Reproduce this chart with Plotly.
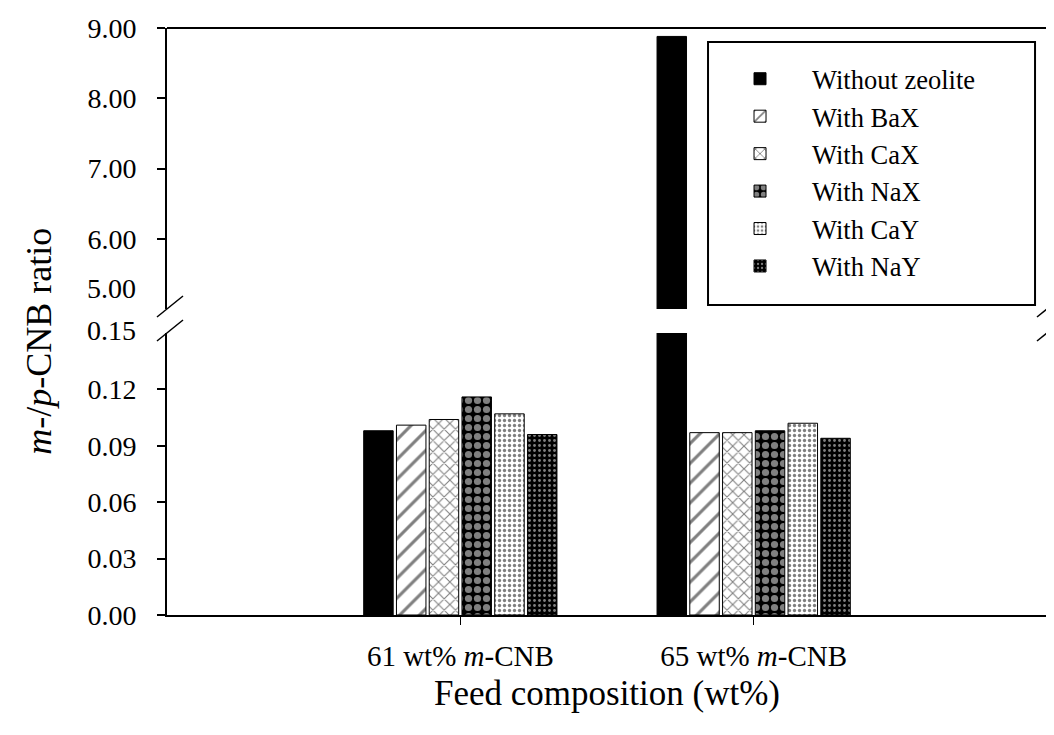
import plotly.graph_objects as go

categories = ["61 wt% m-CNB", "65 wt% m-CNB"]
category_labels = ["61 wt% <i>m</i>-CNB", "65 wt% <i>m</i>-CNB"]

series_names = ["Without zeolite", "With BaX", "With CaX", "With NaX", "With CaY", "With NaY"]
without_zeolite = [0.098, 8.88]
with_bax = [0.101, 0.097]
with_cax = [0.104, 0.097]
with_nax = [0.116, 0.098]
with_cay = [0.107, 0.102]
with_nay = [0.096, 0.094]
series_values = [without_zeolite, with_bax, with_cax, with_nax, with_cay, with_nay]

lower_ticks = [0.0, 0.03, 0.06, 0.09, 0.12]
upper_ticks = [6.0, 7.0, 8.0, 9.0]

FONT = "Liberation Serif, Times New Roman, serif"

patterns = [
    dict(shape="", bgcolor="black", fgcolor="black"),
    dict(shape="/", bgcolor="white", fgcolor="black", size=14, solidity=0.22),
    dict(shape="x", bgcolor="white", fgcolor="black", size=8, solidity=0.25),
    dict(shape=".", bgcolor="black", fgcolor="white", size=9, solidity=0.5),
    dict(shape=".", bgcolor="white", fgcolor="black", size=5, solidity=0.35),
    dict(shape=".", bgcolor="black", fgcolor="white", size=5, solidity=0.25),
]

fig = go.Figure()
for name, vals, pat in zip(series_names, series_values, patterns):
    for yax, show in (("y", True), ("y2", False)):
        fig.add_trace(go.Bar(
            x=categories, y=vals, name=name, yaxis=yax, showlegend=show,
            legendgroup=name,
            marker=dict(color=pat["bgcolor"], pattern=pat,
                        line=dict(color="black", width=1)),
        ))

L_TOP = 0.4804
U_BOT = 0.5213

axis_common = dict(showline=True, linecolor="black", linewidth=2, ticks="outside",
                   ticklen=8, tickwidth=1.5, tickcolor="black", showgrid=False,
                   zeroline=False, automargin=False,
                   tickfont=dict(family=FONT, size=28, color="black"))

fig.update_layout(
    width=1054, height=735,
    margin=dict(l=159, r=15, t=20, b=128, autoexpand=False),
    paper_bgcolor="white", plot_bgcolor="white",
    barmode="group", bargap=0.33, bargroupgap=0.1,
    font=dict(family=FONT, color="black"),
    xaxis=dict(type="category", categoryorder="array", categoryarray=categories,
               tickvals=categories, ticktext=category_labels, range=[-1, 2],
               showline=True, linecolor="black", linewidth=2, ticks="outside",
               ticklen=8, tickcolor="black", showgrid=False, ticklabelstandoff=6,
               automargin=False,
               tickfont=dict(family=FONT, size=29, color="black"),
               title=dict(text="Feed composition (wt%)", standoff=10,
                          font=dict(family=FONT, size=35, color="black")),
               anchor="y"),
    yaxis=dict(domain=[0, L_TOP], range=[0, 0.15], tickvals=lower_ticks,
               tickformat=".2f", mirror=True, ticklabelstandoff=15, anchor="x",
               **axis_common),
    yaxis2=dict(domain=[U_BOT, 1], range=[5, 9], tickvals=upper_ticks,
                tickformat=".2f", mirror=True, ticklabelstandoff=15, anchor="x",
                **axis_common),
    legend=dict(x=0.6148, y=0.954, xanchor="left", yanchor="top",
                borderwidth=0, bgcolor="rgba(0,0,0,0)",
                font=dict(family=FONT, size=26.5, color="black"),
                itemwidth=94, tracegroupgap=0),
    showlegend=True,
)

# frame top line, legend frame and axis-break marks
shapes = [
    dict(type="line", xref="paper", yref="paper", x0=0, x1=1, y0=1, y1=1,
         line=dict(color="black", width=2)),
    dict(type="rect", xref="paper", yref="paper", x0=0.6148, x1=0.9864,
         y0=0.5281, y1=0.9761, line=dict(color="black", width=2),
         fillcolor="white", layer="below"),
]
px_w, px_h = 880.0, 587.0
for xp in (0.0, 1.0):
    for yp in (U_BOT, L_TOP):
        shapes.append(dict(type="line", xref="paper", yref="paper",
                           x0=xp - 10 / px_w, x1=xp + 16 / px_w,
                           y0=yp - 8 / px_h, y1=yp + 13 / px_h,
                           line=dict(color="black", width=1.5)))
fig.update_layout(shapes=shapes)

fig.add_annotation(text="5.00", xref="paper", yref="paper", x=-0.033, y=0.557,
                   xanchor="right", yanchor="middle", showarrow=False,
                   font=dict(family=FONT, size=28, color="black"))
fig.add_annotation(text="0.15", xref="paper", yref="paper", x=-0.033, y=0.4855,
                   xanchor="right", yanchor="middle", showarrow=False,
                   font=dict(family=FONT, size=28, color="black"))
fig.add_annotation(text="<i>m</i>-/<i>p</i>-CNB ratio", xref="paper", yref="paper",
                   x=-0.1455, y=0.467, xanchor="center", yanchor="middle",
                   textangle=-90, showarrow=False,
                   font=dict(family=FONT, size=36, color="black"))

fig.write_html("out.html")
